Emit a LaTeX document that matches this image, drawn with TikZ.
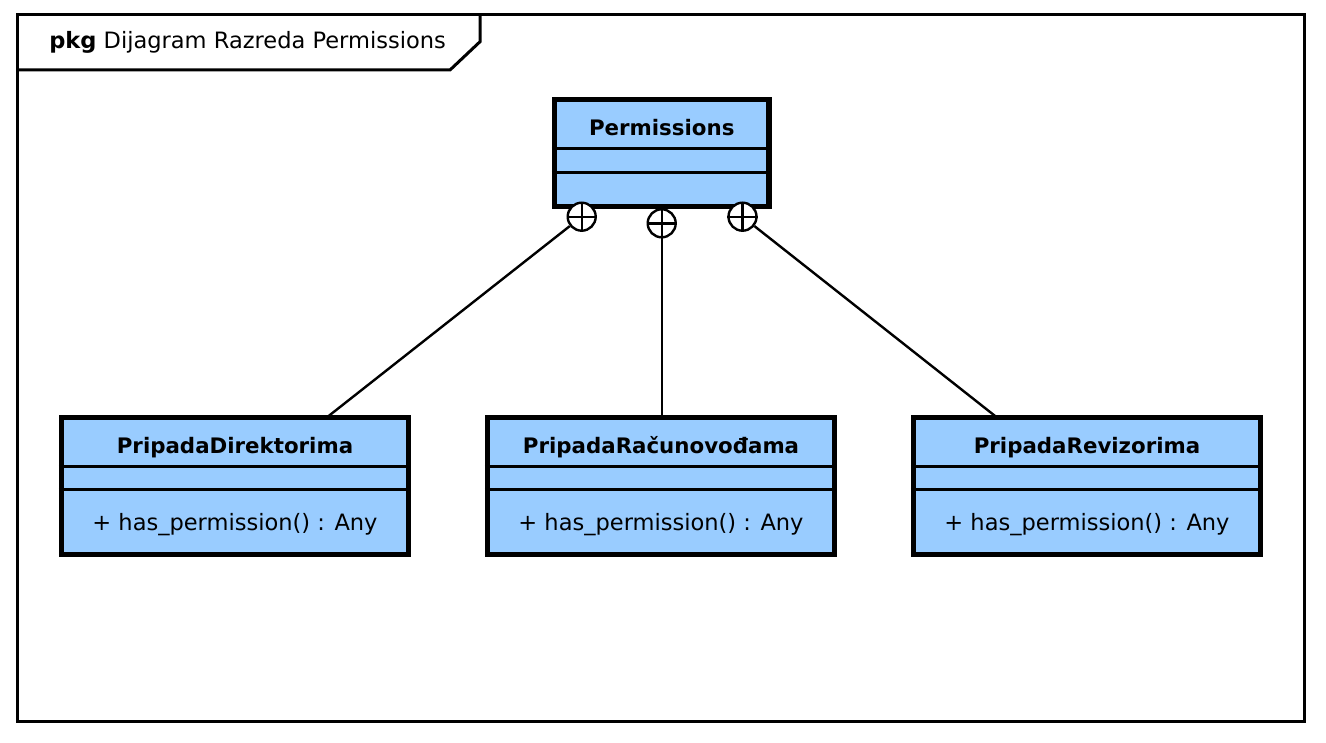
\documentclass[tikz,border=0pt]{standalone}
\usepackage{fontspec}
\setmainfont{DejaVu Sans}
\definecolor{classfill}{HTML}{99CCFF}
\tikzset{
  classbox/.style={draw=black, fill=classfill, line width=4pt, rectangle, inner sep=0pt, minimum width=260.25pt, minimum height=102.75pt},
  sepline/.style={draw=black, line width=2.25pt},
  nametext/.style={font=\fontsize{16}{19}\selectfont\bfseries, inner sep=0pt, anchor=base},
  optext/.style={font=\fontsize{16.9}{20}\selectfont, inner sep=0pt, anchor=base},
  nest/.style={circle, draw=black, fill=white, line width=1.8pt, minimum size=21pt, inner sep=0pt},
  conn/.style={draw=black, line width=1.8pt},
  frame/.style={draw=black, line width=2.25pt},
}
\begin{document}
\begin{tikzpicture}[x=0.75pt, y=-0.75pt]
\useasboundingbox (0,0) rectangle (1326,742);
% package frame
\draw[frame] (17.7,14.3) rectangle (1304.5,721.7);
\draw[frame] (17.7,70) -- (450,70) -- (480,41.7) -- (480,14.3);
\node[anchor=base west, inner sep=0pt, font=\fontsize{16.9}{20}\selectfont] (title) at (49,48.3) {\textbf{pkg} Dijagram Razreda Permissions};
% Permissions class
\node[classbox, minimum width=160.9pt, minimum height=80.25pt] (perm) at (661.75,153) {};
\draw[sepline] ([yshift=-38.6pt]perm.north west) -- ([yshift=-38.6pt]perm.north east);
\draw[sepline] ([yshift=-56.6pt]perm.north west) -- ([yshift=-56.6pt]perm.north east);
\node[nametext] (permname) at (661.75,135) {Permissions};
% child classes
\foreach \nm/\cx/\label in {pd/235/PripadaDirektorima, pr/661/PripadaRačunovođama, pv/1087/PripadaRevizorima}{
  \node[classbox] (\nm) at (\cx,485.75) {};
  \draw[sepline] ([yshift=-38.85pt]\nm.north west) -- ([yshift=-38.85pt]\nm.north east);
  \draw[sepline] ([yshift=-56.4pt]\nm.north west) -- ([yshift=-56.4pt]\nm.north east);
  \node[nametext] (\nm name) at (\cx,453.3) {\label};
  \node[optext] (\nm op) at (\cx,530) {+ has\_permission() : Any};
}
% nesting circles
\foreach \c/\x/\y in {c1/581.7/216.7, c2/661.7/223.3, c3/742.5/216.7}{
  \node[nest] (\c) at (\x,\y) {};
  \draw[line width=1.8pt] (\c.north) -- (\c.south);
  \draw[line width=1.8pt] (\c.west) -- (\c.east);
}
% connector end points on the child boxes
\coordinate (e1) at (326.7,417.5);
\coordinate (e2) at (661.7,417.5);
\coordinate (e3) at (997,417.5);
\draw[conn] (c1) -- (e1);
\draw[conn] (c2) -- (e2);
\draw[conn] (c3) -- (e3);
\end{tikzpicture}
\end{document}
